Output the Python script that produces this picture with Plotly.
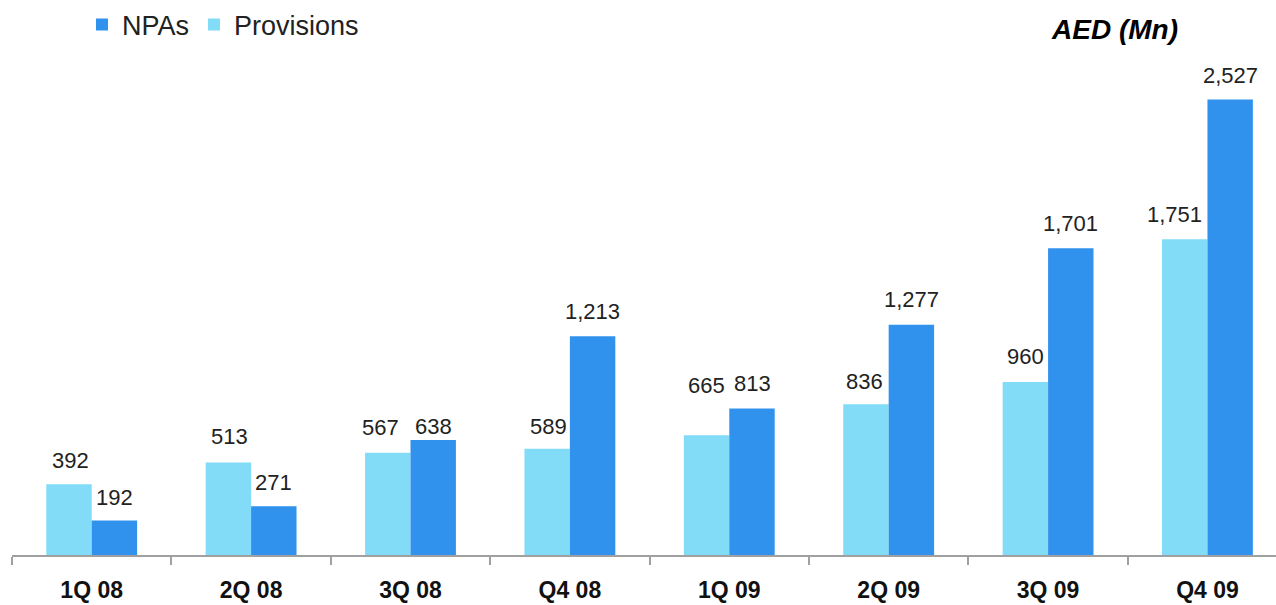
import plotly.graph_objects as go

quarters = ["1Q 08", "2Q 08", "3Q 08", "Q4 08", "1Q 09", "2Q 09", "3Q 09", "Q4 09"]
provisions = [392, 513, 567, 589, 665, 836, 960, 1751]
npas = [192, 271, 638, 1213, 813, 1277, 1701, 2527]

# per-label nudges (pixels) so value labels don't collide with neighbouring bars
prov_label_dy = [24, 26, 25, 22, 50, 23, 25, 25]
prov_label_dx = [2, 1, -7, 1, 0, -1, 0, -10]
npa_label_dy = [23, 24, 13, 25, 25, 25, 25, 24]

LIGHT = "#82DCF8"
DARK = "#3192EE"
FONT = "Liberation Sans, Arial, sans-serif"

W, H = 1276, 605
ML, MR, MT, MB = 12, 0, 60, 50

fig = go.Figure()
fig.add_trace(go.Bar(x=quarters, y=provisions, name="Provisions", marker_color=LIGHT,
                     marker_line_width=0))
fig.add_trace(go.Bar(x=quarters, y=npas, name="NPAs", marker_color=DARK,
                     marker_line_width=0))

BAR_HALF = 22.8
ann = []
for i, q in enumerate(quarters):
    ann.append(dict(x=q, y=provisions[i], xref="x", yref="y", text=f"{provisions[i]:,}",
                    showarrow=False, xshift=-BAR_HALF + prov_label_dx[i], yshift=prov_label_dy[i],
                    yanchor="middle", font=dict(family=FONT, size=22, color="#222222")))
    ann.append(dict(x=q, y=npas[i], xref="x", yref="y", text=f"{npas[i]:,}",
                    showarrow=False, xshift=BAR_HALF, yshift=npa_label_dy[i],
                    yanchor="middle", font=dict(family=FONT, size=22, color="#222222")))

# unit caption, top right
ann.append(dict(x=(1180 - ML) / (W - ML - MR), y=1 + (MT - 29) / (H - MT - MB),
                xref="paper", yref="paper", text="AED (Mn)", showarrow=False,
                xanchor="right", yanchor="middle",
                font=dict(family=FONT, size=28, color="#000000", weight="bold", style="italic")))

fig.update_layout(
    width=W, height=H,
    margin=dict(l=ML, r=MR, t=MT, b=MB, autoexpand=False),
    paper_bgcolor="white", plot_bgcolor="white",
    barmode="group", bargap=0.43, bargroupgap=0,
    showlegend=True,
    legend=dict(orientation="h", traceorder="reversed",
                xref="container", yref="container",
                x=82 / W, y=1 - 25 / H, xanchor="left", yanchor="middle",
                font=dict(family=FONT, size=27, color="#222222")),
    annotations=ann,
    xaxis=dict(range=[-0.5, 7.43], showline=True, linecolor="#A0A0A0", linewidth=1.5,
               ticks="outside", tickson="boundaries", ticklen=8, tickcolor="#A0A0A0",
               tickwidth=1.5, ticklabelstandoff=14,
               tickfont=dict(family=FONT, size=23, color="#111111", weight="bold"),
               showgrid=False, zeroline=False),
    yaxis=dict(range=[0, 2746], visible=False, showgrid=False, zeroline=False),
)

fig.write_html("out.html")
